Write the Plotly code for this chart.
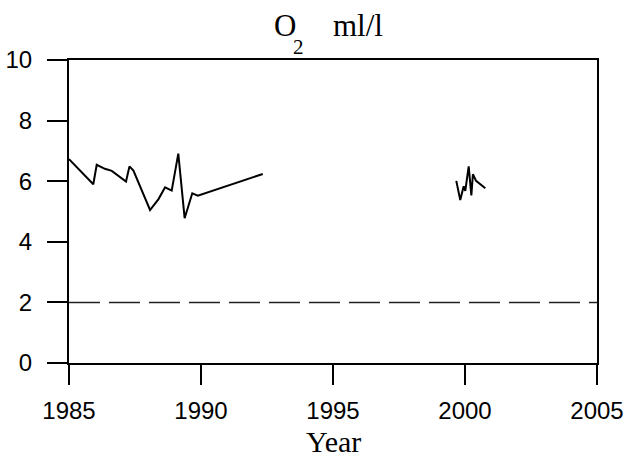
import plotly.graph_objects as go

years_a = [1985.0, 1985.92, 1986.05, 1986.36, 1986.62, 1987.16, 1987.29, 1987.44,
           1988.07, 1988.39, 1988.64, 1988.89, 1989.14, 1989.38, 1989.67, 1989.88, 1992.34]
o2_a = [6.73, 5.90, 6.54, 6.41, 6.34, 5.99, 6.49, 6.35,
        5.05, 5.41, 5.80, 5.69, 6.91, 4.78, 5.60, 5.52, 6.24]

years_b = [1999.67, 1999.82, 1999.95, 2000.01, 2000.14, 2000.24, 2000.30, 2000.42, 2000.77]
o2_b = [6.01, 5.38, 5.83, 5.68, 6.49, 5.53, 6.23, 6.01, 5.77]

threshold = 2.0
x_range = [1985, 2005]
y_range = [0, 10]
x_ticks = [1985, 1990, 1995, 2000, 2005]
y_ticks = [0, 2, 4, 6, 8, 10]

fig = go.Figure()
fig.add_trace(go.Scatter(x=x_range, y=[threshold, threshold], mode="lines",
                         line=dict(color="#222222", width=1.5, dash="31px,9px"),
                         hoverinfo="skip", showlegend=False))
fig.add_trace(go.Scatter(x=years_a, y=o2_a, mode="lines",
                         line=dict(color="black", width=2), showlegend=False))
fig.add_trace(go.Scatter(x=years_b, y=o2_b, mode="lines",
                         line=dict(color="black", width=2), showlegend=False))

tick_font = dict(family="Liberation Sans, Arial", size=24, color="black")
serif = "Liberation Serif, Times New Roman"

fig.update_layout(
    width=629, height=455,
    margin=dict(l=69, r=32, t=60, b=92),
    paper_bgcolor="white", plot_bgcolor="white",
    xaxis=dict(range=x_range, tickvals=x_ticks, ticks="outside", ticklen=20, tickwidth=1.5,
               tickcolor="black", showline=True, linecolor="black", linewidth=2, mirror=True,
               showgrid=False, zeroline=False, tickfont=tick_font, automargin=False,
               ticklabelstandoff=5),
    yaxis=dict(range=y_range, tickvals=y_ticks, ticks="outside", ticklen=20, tickwidth=1.5,
               tickcolor="black", showline=True, linecolor="black", linewidth=2, mirror=True,
               showgrid=False, zeroline=False, tickfont=tick_font, automargin=False,
               ticklabelstandoff=10),
    annotations=[
        dict(text="O", xref="paper", yref="paper", x=0.409, y=1.1125,
             xanchor="center", yanchor="middle", showarrow=False,
             font=dict(family=serif, size=31, color="black")),
        dict(text="2", xref="paper", yref="paper", x=0.4356, y=1.043,
             xanchor="center", yanchor="middle", showarrow=False,
             font=dict(family=serif, size=21, color="black")),
        dict(text="ml/l", xref="paper", yref="paper", x=0.547, y=1.1125,
             xanchor="center", yanchor="middle", showarrow=False,
             font=dict(family=serif, size=31, color="black")),
        dict(text="Year", xref="paper", yref="paper", x=0.5, y=-0.26,
             xanchor="center", yanchor="middle", showarrow=False,
             font=dict(family=serif, size=30, color="black")),
    ],
)

fig.write_html(
    "out.html",
    config={"displayModeBar": False},
    post_script=("document.body.style.margin='0';"
                 "document.documentElement.style.overflow='hidden';"
                 "document.body.style.overflow='hidden';"),
)
